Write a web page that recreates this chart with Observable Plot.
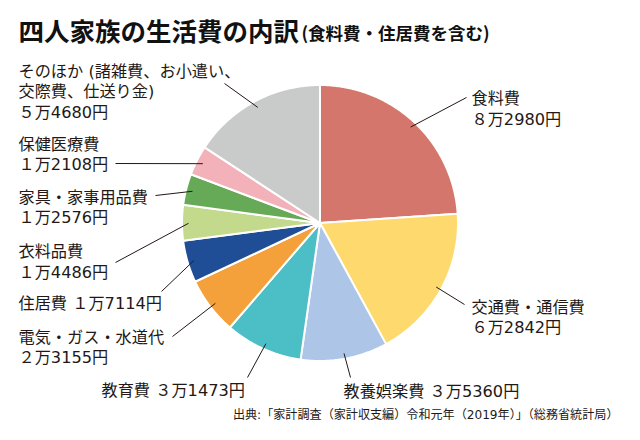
<!DOCTYPE html>
<html>
<head>
<meta charset="utf-8">
<script src="https://cdn.jsdelivr.net/npm/d3@7"></script>
<script src="https://cdn.jsdelivr.net/npm/@observablehq/plot@0.6"></script>
<style>
  html, body { margin: 0; padding: 0; background: #ffffff; }
  #chart svg { display: block; }
</style>
</head>
<body>
<div id="chart"></div>
<script>
// ---- data ----
const categories = ["食料費", "交通費・通信費", "教養娯楽費", "教育費", "電気・ガス・水道代", "住居費", "衣料品費", "家具・家事用品費", "保健医療費", "そのほか (諸雑費、お小遣い、\n交際費、仕送り金)"];
const values = [82980, 62842, 35360, 31473, 23155, 17114, 14486, 12576, 12108, 54680];
const colors = ["#d4766c", "#fdd96e", "#adc6e8", "#4bbec6", "#f4a03b", "#1f4e96", "#c3d98c", "#66a957", "#f3b2ba", "#c9caca"];
const multiline = [true, true, false, false, true, false, true, true, true, true];
const titleText = "四人家族の生活費の内訳";
const subtitleText = "(食料費・住居費を含む)";
const captionText = "出典:「家計調査（家計収支編）令和元年（2019年）」（総務省統計局）";

// ---- layout ----
const CX = 320, CY = 223, R = 138, RL = 132;
const labelPos = [[471, 107.5], [471, 316], [343, 390], [101, 389], [18, 346], [18, 302], [18, 260.5], [18, 206], [18, 153], [18, 90]];
const leaderEnd = [[466, 97], [464, 304], [350, 377], [247, 377], [172, 336], [161, 291], [115, 262], [155, 195], [115, 163], [224, 83]];

const fw = n => String(n).replace(/[0-9]/g, c => String.fromCharCode(c.charCodeAt(0) + 0xFEE0));
const yen = v => fw(Math.floor(v / 10000)) + "万" + String(v % 10000).padStart(4, "0") + "円";

const arcs = d3.pie().sort(null).value(d => d.value).startAngle(0).endAngle(2 * Math.PI)(
  categories.map((c, i) => ({key: c, value: values[i], i}))
);

const pts = [];
for (const a of arcs) {
  const n = Math.max(2, Math.ceil((a.endAngle - a.startAngle) / 0.01));
  for (let k = 0; k <= n; k++) {
    const t = a.startAngle + (a.endAngle - a.startAngle) * k / n;
    pts.push({key: a.data.key, x: CX + R * Math.sin(t), y: CY - R * Math.cos(t)});
  }
}

const links = arcs.map((a, i) => {
  const m = (a.startAngle + a.endAngle) / 2;
  return {x1: CX + RL * Math.sin(m), y1: CY - RL * Math.cos(m), x2: leaderEnd[i][0], y2: leaderEnd[i][1]};
});

const labels = arcs.map((a, i) => ({
  x: labelPos[i][0], y: labelPos[i][1],
  text: categories[i] + (multiline[i] ? "\n" : " ") + yen(values[i])
}));

const font = "'Noto Sans CJK JP', 'Noto Sans', sans-serif";
const labelFont = "'DejaVu Sans', 'Noto Sans CJK JP', sans-serif";

const chart = Plot.plot({
  width: 640,
  height: 440,
  margin: 0,
  x: {domain: [0, 640], range: [0, 640], axis: null},
  y: {domain: [0, 440], range: [0, 440], axis: null},
  color: {domain: categories, range: colors},
  style: {fontFamily: font, background: "#ffffff"},
  marks: [
    Plot.area(pts, {x1: "x", y1: "y", x2: () => CX, y2: () => CY, z: "key", fill: "key", stroke: "#ffffff", strokeWidth: 2, strokeLinejoin: "round", curve: "linear"}),
    Plot.link(links, {x1: "x1", y1: "y1", x2: "x2", y2: "y2", stroke: "#231815", strokeWidth: 1}),
    Plot.text(labels, {x: "x", y: "y", text: "text", textAnchor: "start", lineAnchor: "middle", lineHeight: 1.27, fontSize: 16.2, fill: "#231815", fontFamily: labelFont}),
    Plot.text([titleText], {x: 18, y: 32, text: d => d, textAnchor: "start", fontSize: 25.5, fontWeight: "bold", fill: "#111111", fontFamily: font}),
    Plot.text([subtitleText], {x: 301, y: 34, text: d => d, textAnchor: "start", fontSize: 17.5, fontWeight: "bold", fill: "#111111", fontFamily: font}),
    Plot.text([captionText], {x: 618, y: 415, text: d => d, textAnchor: "end", fontSize: 12.1, fill: "#231815", fontFamily: labelFont})
  ]
});
document.getElementById("chart").appendChild(chart);
</script>
</body>
</html>
